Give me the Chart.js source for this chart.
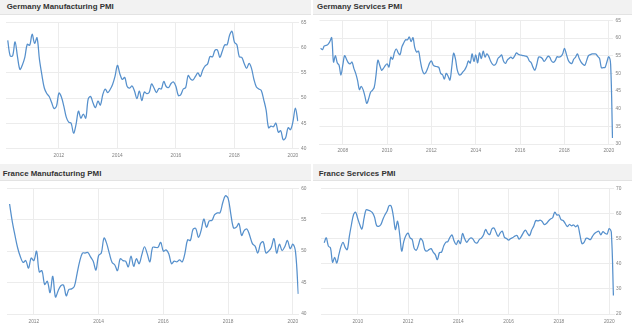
<!DOCTYPE html>
<html><head><meta charset="utf-8">
<script src="https://cdn.jsdelivr.net/npm/chart.js@4/dist/chart.umd.min.js"></script>
<style>
html,body{margin:0;padding:0;background:#fff;width:632px;height:331px;overflow:hidden;font-family:"Liberation Sans",Arial,sans-serif}
.band{position:absolute;background:#f2f2f2;border-bottom:1px solid #e3e3e3;box-sizing:border-box}
.title{position:absolute;font-weight:bold;font-size:7.9px;color:#333;white-space:nowrap;line-height:1}
canvas{position:absolute}
</style></head><body>
<div class="band" style="left:0;top:0;width:311px;height:15px"></div>
<div class="band" style="left:313px;top:0;width:319px;height:15px"></div>
<div class="band" style="left:0;top:164px;width:311px;height:17px"></div>
<div class="band" style="left:313px;top:164px;width:319px;height:17px"></div>
<div class="title" style="left:6.7px;top:2.8px">Germany Manufacturing PMI</div>
<div class="title" style="left:317px;top:2.8px">Germany Services PMI</div>
<div class="title" style="left:2.7px;top:169.5px">France Manufacturing PMI</div>
<div class="title" style="left:318.7px;top:169.5px">France Services PMI</div>
<canvas id="c1" width="312" height="150" style="left:0;top:15px"></canvas>
<canvas id="c2" width="316" height="150" style="left:316px;top:15px"></canvas>
<canvas id="c3" width="312" height="150" style="left:0;top:181px"></canvas>
<canvas id="c4" width="316" height="150" style="left:316px;top:181px"></canvas>
<script>
// Germany Manufacturing PMI, monthly from Apr 2010
const deMfgStart = [2010, 4];
const deMfgValues = [
  61.5, 58.4, 58.4, 61.2, 58.2, 55.7, 56.6, 58.1, 60.7,
  60.5, 62.7, 60.9, 62.0, 57.7, 54.6, 52.0, 50.9, 50.3, 49.1, 47.9, 48.4,
  51.0, 50.2, 48.4, 46.2, 45.2, 45.0, 43.0, 44.7, 47.4, 46.0, 46.8, 46.0,
  49.8, 50.3, 49.0, 48.1, 49.4, 48.6, 50.7, 51.8, 51.1, 51.7, 52.7, 54.3,
  56.5, 54.8, 53.7, 54.1, 52.3, 52.0, 52.4, 51.4, 49.9, 51.4, 49.5, 51.2,
  50.9, 51.1, 52.8, 52.0, 51.1, 51.9, 51.8, 53.3, 52.3, 52.1, 52.9, 53.2,
  52.3, 50.5, 50.7, 51.8, 52.1, 54.5, 53.8, 53.6, 54.3, 55.0, 54.3, 55.6,
  56.4, 56.8, 58.3, 58.2, 59.5, 59.6, 58.1, 59.3, 60.6, 60.6, 62.5, 63.3,
  61.1, 60.6, 58.2, 58.1, 56.9, 55.9, 56.9, 55.9, 53.7, 52.2, 51.8, 51.5,
  49.7, 47.6, 44.1, 44.4, 44.3, 45.0, 43.2, 43.5, 41.7, 42.1, 44.1, 43.7,
  45.3, 48.0, 45.4
];
const deMfgXTicks = [2012, 2014, 2016, 2018, 2020];
const deMfgYTicks = [40, 45, 50, 55, 60, 65];

// Germany Services PMI, monthly from Jan 2007
const deSvcStart = [2007, 1];
const deSvcValues = [
  57.1, 56.7, 57.8, 57.9, 58.2, 59.0, 60.1, 53.2, 55.0, 53.0, 52.3, 49.5,
  52.3, 55.0, 54.0, 53.0, 52.7, 53.2, 51.4, 50.0, 48.0, 45.4, 46.3, 45.4,
  43.5, 41.5, 42.8, 44.6, 45.2, 46.0, 49.5, 53.7, 52.3, 50.9, 51.4, 52.2,
  52.7, 51.8, 54.6, 54.0, 56.0, 56.9, 55.8, 55.3, 57.5, 58.6, 59.5, 59.5,
  60.3, 59.0, 60.1, 57.2, 56.0, 56.3, 53.5, 51.0, 49.9, 50.3, 51.5, 52.9,
  53.5, 52.3, 52.0, 51.9, 51.7, 50.0, 49.6, 48.4, 50.0, 49.2, 48.1, 51.8,
  55.7, 54.1, 50.9, 49.6, 49.7, 50.4, 51.0, 52.0, 53.5, 52.9, 55.5, 53.4,
  55.2, 53.0, 55.8, 54.2, 56.3, 54.6, 55.5, 54.8, 53.5, 52.6, 52.3, 52.8,
  54.2, 54.7, 55.2, 53.5, 52.8, 53.7, 54.2, 54.6, 54.2, 54.9, 55.8, 55.4,
  55.2, 55.1, 55.0, 54.9, 54.6, 53.5, 53.0, 51.7, 50.9, 52.5, 54.6, 54.6,
  54.2, 53.4, 54.0, 54.8, 54.6, 53.5, 53.1, 53.6, 54.7, 54.6, 54.8, 55.5,
  57.1, 55.5, 53.8, 53.0, 52.8, 54.0, 54.6, 55.5, 54.2, 53.2, 52.6, 52.3,
  53.6, 55.0, 55.3, 55.5, 55.5, 55.5, 54.8, 54.2, 51.6, 51.6, 51.7, 53.3,
  54.7, 52.5, 31.7
];
const deSvcXTicks = [2008, 2010, 2012, 2014, 2016, 2018, 2020];
const deSvcYTicks = [30, 35, 40, 45, 50, 55, 60, 65];

// France Manufacturing PMI, monthly from Apr 2011
const frMfgStart = [2011, 4];
const frMfgValues = [
  57.5, 54.7, 52.5, 50.5, 49.1, 48.2, 48.5, 47.3, 48.9,
  48.5, 50.0, 46.7, 46.9, 44.7, 45.2, 43.4, 46.0, 42.7, 43.7, 44.5, 44.6,
  42.9, 43.9, 44.0, 44.4, 46.4, 48.4, 49.7, 49.7, 49.8, 49.1, 48.4, 47.0,
  49.3, 49.7, 52.1, 51.2, 49.6, 48.2, 47.8, 46.9, 48.8, 48.5, 48.4, 47.5,
  49.2, 47.6, 48.8, 48.0, 49.4, 50.7, 49.6, 48.3, 50.6, 50.6, 50.6, 51.4,
  50.0, 50.2, 49.6, 48.0, 48.4, 48.3, 48.6, 48.3, 49.7, 51.8, 51.7, 53.5,
  53.6, 52.2, 53.3, 55.1, 53.8, 54.8, 54.9, 55.8, 56.1, 56.1, 57.7, 58.8,
  58.4, 55.9, 53.7, 53.8, 54.4, 52.5, 53.3, 53.5, 52.5, 51.2, 50.8, 49.7,
  51.2, 51.5, 49.7, 50.0, 50.6, 52.0, 49.7, 51.1, 50.1, 50.7, 51.7, 50.4,
  51.1, 49.8, 43.2
];
const frMfgXTicks = [2012, 2014, 2016, 2018, 2020];
const frMfgYTicks = [40, 45, 50, 55, 60];

// France Services PMI, monthly from Sep 2008
const frSvcStart = [2008, 9];
const frSvcValues = [
  48.3, 50.3, 47.0, 46.3,
  40.6, 42.5, 40.3, 43.6, 46.8, 48.5, 46.5, 45.6, 50.9, 55.5, 59.5, 60.5,
  58.0, 55.5, 53.8, 58.0, 61.5, 61.3, 61.0, 60.3, 58.6, 55.2, 54.9, 55.5,
  57.6, 59.5, 60.9, 63.1, 62.9, 58.9, 53.6, 56.9, 51.8, 45.0, 48.9, 51.2,
  52.2, 50.3, 49.6, 46.0, 45.4, 47.5, 50.0, 49.0, 45.6, 45.0, 45.6, 46.0,
  44.6, 43.6, 41.6, 44.4, 44.6, 47.0, 48.5, 48.8, 50.5, 51.4, 49.0, 47.6,
  49.3, 48.0, 52.0, 50.0, 48.5, 49.6, 50.3, 49.8, 48.5, 48.3, 49.6, 50.2,
  51.4, 53.6, 52.2, 51.6, 53.8, 54.2, 52.5, 50.9, 52.3, 52.9, 50.5, 50.0,
  49.4, 50.0, 50.4, 51.0, 51.2, 49.8, 50.8, 52.3, 53.4, 52.1, 51.2, 53.4,
  55.0, 57.2, 57.0, 57.3, 56.8, 55.6, 56.0, 57.0, 57.8, 58.3, 60.5, 59.4,
  59.4, 57.5, 57.2, 56.0, 54.8, 55.6, 55.1, 55.4, 54.7, 55.3, 51.6, 48.0,
  48.5, 50.1, 50.0, 49.6, 50.9, 52.0, 52.6, 52.9, 51.5, 52.8, 52.1, 51.8,
  54.0, 52.5, 27.4
];
const frSvcXTicks = [2010, 2012, 2014, 2016, 2018, 2020];
const frSvcYTicks = [20, 30, 40, 50, 60, 70];

const LINE = '#5690cc';
const GRID = '#ececec';
const TICKFONT = {size: 4.8, family: 'Liberation Sans'};
const TICKCOLOR = '#808080';

function makeChart(id, c) {
  const pts = c.values.map((v, i) => ({x: c.start[0] + (c.start[1] - 1 + i) / 12, y: v}));
  new Chart(document.getElementById(id), {
    type: 'line',
    data: {datasets: [{data: pts, borderColor: LINE, borderWidth: 1.25, pointRadius: 0, tension: 0.35, fill: false}]},
    options: {
      responsive: false, animation: false, devicePixelRatio: 1,
      plugins: {legend: {display: false}, tooltip: {enabled: false}},
      layout: {padding: {left: c.padL, top: c.padT, right: 0, bottom: 0}},
      scales: {
        x: {
          type: 'linear', min: c.xMin, max: c.xMax,
          grid: {color: GRID, drawTicks: false, lineWidth: 1},
          border: {display: true, color: GRID},
          ticks: {padding: c.xPad, font: TICKFONT, color: TICKCOLOR, maxRotation: 0, autoSkip: false, callback: v => String(v)},
          afterBuildTicks: s => { s.ticks = c.xTicks.map(v => ({value: v})); },
          afterFit: s => { s.height = c.xH; }
        },
        y: {
          position: 'right', min: c.yTicks[0], max: c.yTicks[c.yTicks.length - 1],
          grid: {color: GRID, drawTicks: false, lineWidth: 1},
          border: {display: false},
          ticks: {padding: c.yPad, font: TICKFONT, color: TICKCOLOR, callback: v => String(v)},
          afterBuildTicks: s => { s.ticks = c.yTicks.map(v => ({value: v})); },
          afterFit: s => { s.width = c.yW; }
        }
      }
    }
  });
}

makeChart('c1', {values: deMfgValues, start: deMfgStart, xTicks: deMfgXTicks, yTicks: deMfgYTicks,
  xMin: 2010.19, xMax: 2020.19, padL: 6, padT: 7.7, xH: 16.7, yW: 13.5, xPad: 4, yPad: 2.5});
makeChart('c2', {values: deSvcValues, start: deSvcStart, xTicks: deSvcXTicks, yTicks: deSvcYTicks,
  xMin: 2006.95, xMax: 2020.19, padL: 3.5, padT: 2.5, xH: 21, yW: 19, xPad: 3.5, yPad: 2.5});
makeChart('c3', {values: frMfgValues, start: frMfgStart, xTicks: frMfgXTicks, yTicks: frMfgYTicks,
  xMin: 2011.17, xMax: 2020.18, padL: 7, padT: 7.3, xH: 17, yW: 13.3, xPad: 4.5, yPad: 2.5});
makeChart('c4', {values: frSvcValues, start: frSvcStart, xTicks: frSvcXTicks, yTicks: frSvcYTicks,
  xMin: 2008.54, xMax: 2020.19, padL: 5, padT: 7.3, xH: 17, yW: 18, xPad: 4.5, yPad: 2});
</script>
</body></html>
